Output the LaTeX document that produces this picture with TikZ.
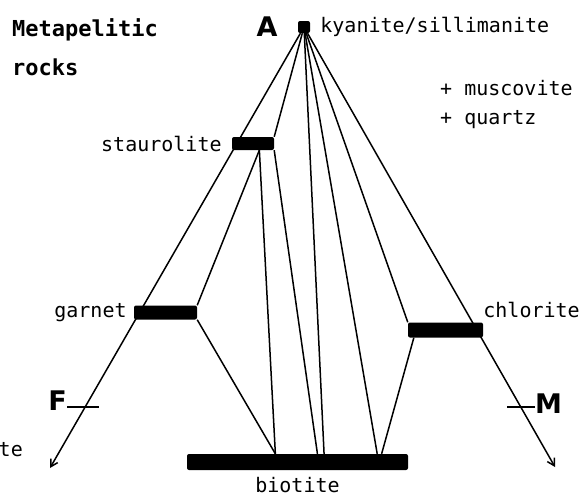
\documentclass[tikz,border=0pt]{standalone}
\usepackage{fontspec}
\setmonofont{DejaVu Sans Mono}
\newfontfamily\capfont{DejaVu Sans}
\usetikzlibrary{arrows.meta, positioning, calc}

\tikzset{
  phase/.style={fill=black, rounded corners=2pt, inner sep=0pt},
  tie/.style={line width=1.5pt},
  edgeline/.style={tie, -{Straight Barb[length=7pt, width=8pt]}},
  mineral/.style={font=\ttfamily\fontsize{20}{24}\selectfont, inner sep=0pt},
  corner/.style={font=\capfont\bfseries\fontsize{27}{30}\selectfont, inner sep=0pt},
  heading/.style={font=\ttfamily\bfseries\fontsize{22}{39}\selectfont, inner sep=0pt, align=left},
}

\begin{document}
\begin{tikzpicture}[x=1pt, y=-1pt]
  \useasboundingbox (0,0) rectangle (584,498);
  % phases
  \node[phase, minimum size=12pt] (ky) at (304,27) {};
  \node[phase, minimum width=42pt, minimum height=13pt] (st) at (253,143.5) {};
  \node[phase, minimum width=63pt, minimum height=14pt] (grt) at (165.5,312.5) {};
  \node[phase, minimum width=75pt, minimum height=15pt] (chl) at (445.5,330) {};
  \node[phase, minimum width=221pt, minimum height=16pt] (bt) at (297.5,462) {};
  \coordinate (fend) at (50,468);
  \coordinate (mend) at (555,467);
  % triangle edges
  \draw[edgeline] (ky) -- (fend);
  \draw[edgeline] (ky) -- (mend);
  % tie lines
  \draw[tie] (ky) -- (st.north east);
  \draw[tie] (ky) -- ($(bt.north west)!0.62!(bt.north east)$);
  \draw[tie] (ky) -- ($(bt.north west)!0.86!(bt.north east)$);
  \draw[tie] (ky) -- (chl.north west);
  \draw[tie] ($(st.south west)!0.65!(st.south east)$) -- (grt.north east);
  \draw[tie] ($(st.south west)!0.65!(st.south east)$) -- ($(bt.north west)!0.40!(bt.north east)$);
  \draw[tie] (st.south east) -- ($(bt.north west)!0.59!(bt.north east)$);
  \draw[tie] (grt.south east) -- ($(bt.north west)!0.40!(bt.north east)$);
  \draw[tie] ($(chl.south west)!0.08!(chl.south east)$) -- ($(bt.north west)!0.88!(bt.north east)$);
  % labels
  \node[heading, anchor=north west] (title) at (12,18) {Metapelitic\\rocks};
  \node[corner, left=20pt of ky] (A) {A};
  \node[mineral, right=10pt of ky] (kylbl) {kyanite/sillimanite};
  \node[mineral, anchor=west] (musc) at (440,88) {+ muscovite};
  \node[mineral, anchor=west] (qtz) at (440,120) {+ quartz};
  \node[mineral, left=10pt of st] (stlbl) {staurolite};
  \node[mineral, left=7pt of grt] (grtlbl) {garnet};
  \node[mineral, above right=4pt and 0pt of chl] (chllbl) {chlorite};
  \node[mineral, below=7pt of bt] (btlbl) {biotite};
  \node[mineral, anchor=east] (felbl) at (23,450) {te};
  \node[corner, anchor=east] (F) at (67,401) {F};
  \draw[tie] ([yshift=-6pt]F.east) -- ++(32,0);
  \node[corner, anchor=west] (M) at (535,404) {M};
  \draw[tie] ([yshift=-3pt]M.west) -- ++(-28,0);
\end{tikzpicture}
\end{document}
